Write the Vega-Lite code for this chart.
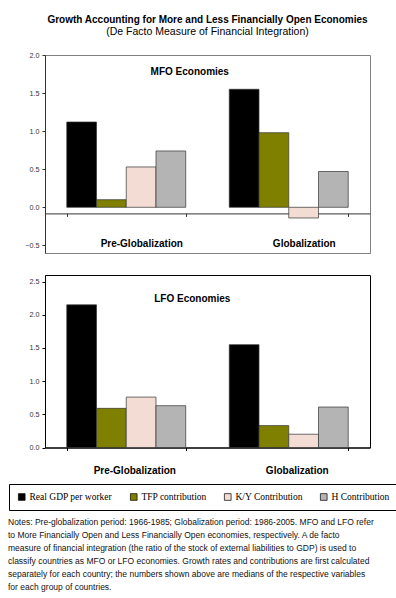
{
  "$schema": "https://vega.github.io/schema/vega-lite/v6.json",
  "padding": {"left": 8, "top": 14, "right": 5, "bottom": 5},
  "config": {"font": "Liberation Sans", "view": {"stroke": null}, "axis": {"labelOverlap": false}},
  "title": {
    "text": [
      "Notes: Pre-globalization period: 1966-1985; Globalization period: 1986-2005. MFO and LFO refer",
      "to More Financially Open and Less Financially Open economies, respectively. A de facto",
      "measure of financial integration (the ratio of the stock of external liabilities to GDP) is used to",
      "classify countries as MFO or LFO economies. Growth rates and contributions are first calculated",
      "separately for each country; the numbers shown above are medians of the respective variables",
      "for each group of countries."
    ],
    "orient": "bottom", "anchor": "start", "frame": "bounds",
    "fontSize": 8.5, "fontWeight": "normal", "lineHeight": 13, "color": "#111", "offset": 7
  },
  "bounds": "flush",
  "spacing": 22,
  "resolve": {"scale": {"color": "independent"}, "legend": {"color": "independent"}},
  "datasets": {
    "mfo": [
      {"period": "Pre-Globalization", "series": "Real GDP per worker", "value": 1.12},
      {"period": "Pre-Globalization", "series": "TFP contribution", "value": 0.10},
      {"period": "Pre-Globalization", "series": "K/Y Contribution", "value": 0.53},
      {"period": "Pre-Globalization", "series": "H Contribution", "value": 0.74},
      {"period": "Globalization", "series": "Real GDP per worker", "value": 1.55},
      {"period": "Globalization", "series": "TFP contribution", "value": 0.98},
      {"period": "Globalization", "series": "K/Y Contribution", "value": -0.14},
      {"period": "Globalization", "series": "H Contribution", "value": 0.47}
    ],
    "lfo": [
      {"period": "Pre-Globalization", "series": "Real GDP per worker", "value": 2.15},
      {"period": "Pre-Globalization", "series": "TFP contribution", "value": 0.59},
      {"period": "Pre-Globalization", "series": "K/Y Contribution", "value": 0.76},
      {"period": "Pre-Globalization", "series": "H Contribution", "value": 0.63},
      {"period": "Globalization", "series": "Real GDP per worker", "value": 1.55},
      {"period": "Globalization", "series": "TFP contribution", "value": 0.33},
      {"period": "Globalization", "series": "K/Y Contribution", "value": 0.20},
      {"period": "Globalization", "series": "H Contribution", "value": 0.61}
    ]
  },
  "vconcat": [
    {
      "width": 325, "height": 198,
      "title": {
        "text": "Growth Accounting for More and Less Financially Open Economies",
        "subtitle": "(De Facto Measure of Financial Integration)",
        "fontSize": 10, "fontWeight": "bold", "color": "#000",
        "subtitleFontSize": 10.5, "subtitleColor": "#000", "subtitlePadding": 2,
        "anchor": "middle", "offset": 14
      },
      "view": {"stroke": "#808080"},
      "layer": [
        {
          "data": {"name": "mfo"},
          "mark": {"type": "bar", "stroke": "#333", "strokeWidth": 0.7},
          "encoding": {
            "x": {
              "field": "period", "type": "nominal", "sort": ["Pre-Globalization", "Globalization"],
              "scale": {"paddingInner": 0.268, "paddingOuter": 0.134},
              "axis": {"title": null, "offset": -39.6, "tickBand": "extent", "tickSize": 3, "tickColor": "#333", "domainColor": "#333",
                       "labelFontSize": 10, "labelFontWeight": "bold", "labelColor": "#000", "labelPadding": 22, "labelOffset": 15, "labelAngle": 0}
            },
            "xOffset": {"field": "series", "type": "nominal", "sort": ["Real GDP per worker", "TFP contribution", "K/Y Contribution", "H Contribution"]},
            "y": {
              "field": "value", "type": "quantitative", "scale": {"domain": [-0.5, 2]},
              "axis": {"title": null, "values": [-0.5, 0, 0.5, 1, 1.5, 2], "tickCount": 12, "format": ".1f", "grid": false, "labelFontSize": 7.2, "labelColor": "#333",
                       "labelOverlap": false, "tickSize": 3, "tickColor": "#333", "domainColor": "#333", "labelPadding": 3}
            },
            "color": {
              "field": "series", "type": "nominal",
              "scale": {"domain": ["Real GDP per worker", "TFP contribution", "K/Y Contribution", "H Contribution"], "range": ["#000000", "#808000", "#f2dcd3", "#b4b4b4"]},
              "legend": null
            }
          }
        },
        {
          "data": {"values": [{"label": "MFO Economies"}]},
          "mark": {"type": "text", "fontWeight": "bold", "fontSize": 10, "dx": 63.5, "color": "#000"},
          "encoding": {
            "x": {"datum": "Pre-Globalization"},
            "y": {"datum": 1.78},
            "text": {"field": "label"}
          }
        }
      ]
    },
    {
      "width": 325, "height": 172.5,
      "view": {"stroke": "#000"},
      "layer": [
        {
          "data": {"name": "lfo"},
          "mark": {"type": "bar", "stroke": "#333", "strokeWidth": 0.7},
          "encoding": {
            "x": {
              "field": "period", "type": "nominal", "sort": ["Pre-Globalization", "Globalization"],
              "scale": {"paddingInner": 0.268, "paddingOuter": 0.134},
              "axis": {"title": null, "tickBand": "extent", "tickSize": 3, "tickColor": "#000", "domainColor": "#000",
                       "labelFontSize": 10, "labelFontWeight": "bold", "labelColor": "#000", "labelPadding": 15, "labelOffset": 8, "labelAngle": 0}
            },
            "xOffset": {"field": "series", "type": "nominal", "sort": ["Real GDP per worker", "TFP contribution", "K/Y Contribution", "H Contribution"]},
            "y": {
              "field": "value", "type": "quantitative", "scale": {"domain": [0, 2.5]},
              "axis": {"title": null, "values": [0, 0.5, 1, 1.5, 2, 2.5], "tickCount": 12, "format": ".1f", "grid": false, "labelFontSize": 7.2, "labelColor": "#333",
                       "labelOverlap": false, "tickSize": 3, "tickColor": "#000", "domainColor": "#000", "labelPadding": 3}
            },
            "color": {
              "field": "series", "type": "nominal",
              "scale": {"domain": ["Real GDP per worker", "TFP contribution", "K/Y Contribution", "H Contribution"], "range": ["#000000", "#808000", "#f2dcd3", "#b4b4b4"]},
              "legend": {
                "orient": "none", "legendX": -36, "legendY": 209, "direction": "horizontal", "columns": 4, "title": null,
                "strokeColor": "#000", "fillColor": "#fff", "padding": 8, "columnPadding": 15,
                "symbolType": "square", "symbolSize": 45, "symbolStrokeColor": "#000", "symbolStrokeWidth": 0.7,
                "labelFont": "Liberation Serif", "labelFontSize": 9.5, "labelColor": "#000", "labelOffset": 3
              }
            }
          }
        },
        {
          "data": {"values": [{"label": "LFO Economies"}]},
          "mark": {"type": "text", "fontWeight": "bold", "fontSize": 10, "dx": 66, "color": "#000"},
          "encoding": {
            "x": {"datum": "Pre-Globalization"},
            "y": {"datum": 2.24},
            "text": {"field": "label"}
          }
        }
      ]
    }
  ]
}
